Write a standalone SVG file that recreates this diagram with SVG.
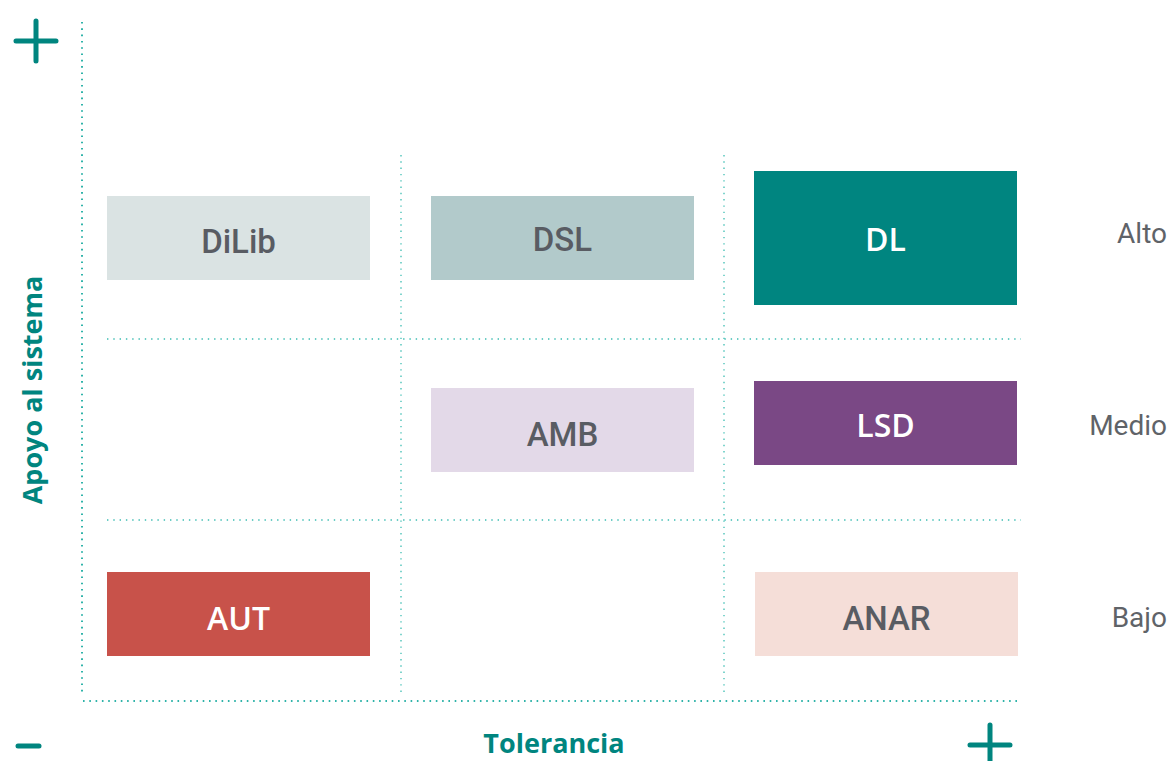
<svg xmlns="http://www.w3.org/2000/svg" width="1173" height="761" viewBox="0 0 1173 761">
<style>
.grid{stroke:#3dbdb3;stroke-width:1.3;stroke-dasharray:1.4 4.9;fill:none}
.axis{stroke:#2fb3a9;stroke-width:2;stroke-dasharray:1.6 4.7;fill:none}
.sign{stroke:#00857f;stroke-width:5;stroke-linecap:round;fill:none}
.lg{font-family:Roboto,"Liberation Sans",sans-serif;font-weight:500;font-size:33px;fill:#595c63;text-anchor:middle}
.lw{font-family:"Open Sans","Liberation Sans",sans-serif;font-weight:600;font-size:32px;fill:#ffffff;text-anchor:middle}
.lvl{font-family:Roboto,"Liberation Sans",sans-serif;font-size:28px;fill:#5f6368;text-anchor:end}
.ax{font-family:"Open Sans","Liberation Sans",sans-serif;font-weight:700;font-size:27px;fill:#00857f;text-anchor:middle}
</style>
<rect width="1173" height="761" fill="#ffffff"/>
<g id="connectors">
<line class="grid" x1="401" y1="155" x2="401" y2="692"/>
<line class="grid" x1="724" y1="155" x2="724" y2="692"/>
<line class="grid" x1="107" y1="339" x2="1021" y2="339"/>
<line class="grid" x1="107" y1="520" x2="1021" y2="520"/>
<line class="axis" x1="82" y1="22" x2="82" y2="695"/>
<line class="axis" x1="83" y1="701" x2="1021" y2="701"/>
</g>
<g id="signs">
<path class="sign" d="M16 41 H56 M36 21 V61"/>
<path class="sign" d="M18 746 H39"/>
<path class="sign" d="M970 745 H1010 M990 725 V770"/>
</g>
<g id="node-dilib"><rect x="107" y="196" width="263" height="84" fill="#dae3e3"/><text class="lg" x="238.5" y="253">DiLib</text></g>
<g id="node-dsl"><rect x="431" y="196" width="263" height="84" fill="#b2cacb"/><text class="lg" x="562.5" y="251">DSL</text></g>
<g id="node-dl"><rect x="754" y="171" width="263" height="134" fill="#008580"/><text class="lw" x="885.5" y="251">DL</text></g>
<g id="node-amb"><rect x="431" y="388" width="263" height="84" fill="#e3d9e8"/><text class="lg" x="562.5" y="446">AMB</text></g>
<g id="node-lsd"><rect x="754" y="381" width="263" height="84" fill="#7a4885"/><text class="lw" x="885.5" y="437">LSD</text></g>
<g id="node-aut"><rect x="107" y="572" width="263" height="84" fill="#c8524a"/><text class="lw" x="238.5" y="630">AUT</text></g>
<g id="node-anar"><rect x="755" y="572" width="263" height="84" fill="#f5ded8"/><text class="lg" x="886.5" y="630">ANAR</text></g>
<g id="levels">
<text class="lvl" x="1167" y="243">Alto</text>
<text class="lvl" x="1167" y="435">Medio</text>
<text class="lvl" x="1167" y="627">Bajo</text>
</g>
<g id="axis-labels">
<text class="ax" x="554" y="753">Tolerancia</text>
<text class="ax" transform="translate(42 390) rotate(-90)">Apoyo al sistema</text>
</g>
</svg>
